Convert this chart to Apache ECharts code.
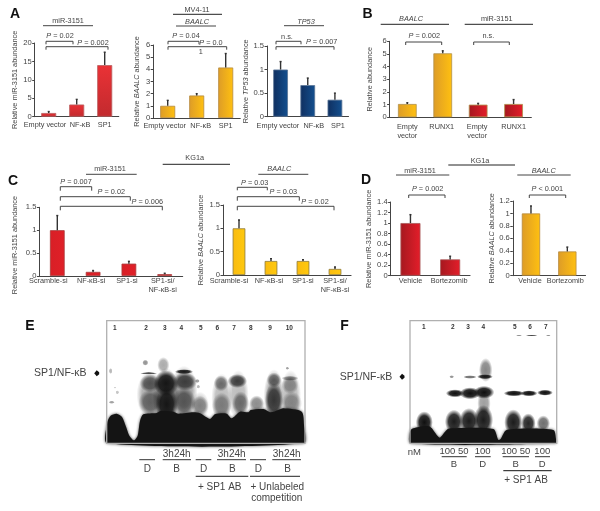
<!DOCTYPE html>
<html><head><meta charset="utf-8">
<style>html,body{margin:0;padding:0;background:#fff}#c{width:600px;height:511px}</style>
<script src="https://cdn.jsdelivr.net/npm/echarts@6/dist/echarts.min.js"></script>
</head><body><div id="c"></div>
<script>
// ---- values ----
const catsA = ['Empty vector', 'NF-κB', 'SP1'];
const catsB = ['Empty\nvector', 'RUNX1', 'Empty\nvector', 'RUNX1'];
const catsC = ['Scramble-si', 'NF-κB-si', 'SP1-si', 'SP1-si/\nNF-κB-si'];
const catsD = ['Vehicle', 'Bortezomib'];
const a1Mean = [1, 3.3, 14];       const a1Top = [1.4, 4.7, 17.5];
const a2Mean = [1, 1.85, 4.15];    const a2Top = [1.45, 2.0, 5.3];
const a3Mean = [1, 0.67, 0.36];    const a3Top = [1.17, 0.82, 0.5];
const bMean = [1.05, 5.05, 1.0, 1.05]; const bTop = [1.15, 5.25, 1.1, 1.4];
const c1Mean = [1, 0.09, 0.27, 0.04];  const c1Top = [1.32, 0.12, 0.32, 0.06];
const c2Mean = [1, 0.3, 0.3, 0.13];    const c2Top = [1.18, 0.35, 0.33, 0.17];
const d1Mean = [1, 0.31];          const d1Top = [1.16, 0.37];
const d2Mean = [1, 0.39];          const d2Top = [1.12, 0.46];

// ---- colours ----
const H = (a, b) => new echarts.graphic.LinearGradient(0, 0, 1, 0, [{offset:0,color:a},{offset:1,color:b}]);
const V = (a, b) => new echarts.graphic.LinearGradient(0, 0, 0, 1, [{offset:0,color:a},{offset:1,color:b}]);
const RED_A = V('#ea3236', '#c22a2e');
const ORANGE = H('#dd9c28', '#ffc010');
const RED_B = H('#a5181f', '#e41e2a');
const BLUE = H('#0f2f60', '#14508f');
const RED_C = H('#d81f26', '#e02028');
const YEL_C = H('#f9bb10', '#ffc90e');
const INK = '#444';
const FONT = 'Liberation Sans';
const FS = 7.3;

// ---- panels ----
const panels = [
 {l:34.7,r:118.7,t:43,b:116.7,max:20,step:5,cats:catsA,mean:a1Mean,top:a1Top,fill:[RED_A],bw:15,edge:'#b9605f',
  name:'Relative miR-3151 abundance',gap:16.7,shift:[-3.7,3.3,0],lm:3.5},
 {l:153.2,r:240.2,t:45,b:118,max:6,step:1,cats:catsA,mean:a2Mean,top:a2Top,fill:[ORANGE],bw:15,edge:'#b58a40',
  name:'{n|Relative }{i|BAALC}{n| abundance}',gap:12.5,shift:[-3,4,0],lm:3.5},
 {l:267,r:348.5,t:46,b:116.7,max:1.5,step:0.5,cats:catsA,mean:a3Mean,top:a3Top,fill:[BLUE],bw:14.7,edge:'#5a7596',
  name:'{n|Relative }{i|TP53}{n| abundance}',gap:12.5,shift:[-2.7,6,3],lm:4.5},
 {l:389.6,r:531.3,t:41.3,b:117.3,max:6,step:1,cats:catsB,mean:bMean,top:bTop,fill:[ORANGE,ORANGE,RED_B,RED_B],bw:18.7,edge:'#b0904a',
  name:'Relative abundance',gap:16,shift:[0,-1,-1,0],lm:5},
 {l:39.4,r:182.6,t:207.3,b:276,max:1.5,step:0.5,cats:catsC,mean:c1Mean,top:c1Top,fill:[RED_C],bw:14.7,edge:'#a83a3a',
  name:'Relative miR-3151 abundance',gap:20.7,shift:[-9,-2,-2,-2],lm:0.5,up:3.4},
 {l:223,r:351,t:205,b:275,max:1.5,step:0.5,cats:catsC,mean:c2Mean,top:c2Top,fill:[YEL_C],bw:12.7,edge:'#8d7a3a',
  name:'{n|Relative }{i|BAALC}{n| abundance}',gap:19,shift:[-10,-2,0,0],lm:1},
 {l:390.6,r:470,t:202,b:275.7,max:1.4,step:0.2,cats:catsD,mean:d1Mean,top:d1Top,fill:[RED_B],bw:20,edge:'#a85a5a',
  name:'Relative miR-3151 abundance',gap:18.3,shift:[0,-1],lm:1},
 {l:512.8,r:585.5,t:201,b:275.7,max:1.2,step:0.2,cats:catsD,mean:d2Mean,top:d2Top,fill:[ORANGE],bw:18.3,edge:'#b58a40',
  name:'{n|Relative }{i|BAALC}{n| abundance}',gap:16.8,shift:[-1,-2],lm:1}
];

const grid=[], xAxis=[], yAxis=[], series=[];
panels.forEach((p,i)=>{
  grid.push({left:p.l,top:p.t,width:p.r-p.l,height:p.b-p.t,containLabel:false});
  const rich={};
  p.cats.forEach((c,k)=>{const s=p.shift[k]||0;
    rich['c'+k]={fontFamily:FONT,fontSize:FS,color:INK,lineHeight:9.2,padding:[0,s<0?-2*s:0,0,s>0?2*s:0]};});
  xAxis.push({gridIndex:i,type:'category',data:p.cats,
    axisLine:{lineStyle:{color:'#444',width:1.2}},axisTick:{show:false},
    axisLabel:{interval:0,margin:p.lm,hideOverlap:false,rich,
      formatter:(v,k)=>v.split('\n').map(t=>'{c'+k+'|'+t+'}').join('\n')}});
  yAxis.push({gridIndex:i,type:'value',min:0,max:p.max,interval:p.step,
    name:p.name,nameLocation:'middle',nameGap:p.gap,nameRotate:90,
    nameTextStyle:{fontFamily:FONT,fontSize:FS,color:INK,padding:[0,2*(p.up||0),0,0],
      rich:{n:{fontFamily:FONT,fontSize:FS,color:INK},i:{fontFamily:FONT,fontSize:FS,color:INK,fontStyle:'italic'}}},
    splitLine:{show:false},
    axisLine:{show:true,lineStyle:{color:'#444',width:1}},
    axisTick:{show:true,length:2.5,lineStyle:{color:'#444',width:1}},
    axisLabel:{fontFamily:FONT,fontSize:7.6,color:INK,margin:3}});
  series.push({type:'bar',xAxisIndex:i,yAxisIndex:i,barWidth:p.bw,silent:true,animation:false,
    data:p.mean.map((v,k)=>({value:v,itemStyle:{color:p.fill[k%p.fill.length]||p.fill[0],borderColor:p.edge,borderWidth:0.8}}))});
  series.push({type:'custom',xAxisIndex:i,yAxisIndex:i,silent:true,animation:false,z:5,
    data:p.top.map((v,k)=>[k,p.mean[k],v]),
    encode:{x:0,y:[1,2]},
    renderItem:(params,api)=>{
      const a=api.coord([api.value(0),api.value(1)]), b=api.coord([api.value(0),api.value(2)]);
      const st={stroke:'#333',lineWidth:1.4,fill:null};
      return {type:'group',children:[
        {type:'line',shape:{x1:a[0],y1:a[1],x2:a[0],y2:b[1]},style:st},
        {type:'line',shape:{x1:a[0]-1,y1:b[1],x2:a[0]+1,y2:b[1]},style:st}]};
    }});
});

// ---- annotations ----
const g=[];
const text=(x,y,s,o={})=>g.push({type:'text',x,y,silent:true,z:20,style:{text:s,fill:o.c||INK,font:`${o.i?'italic ':''}${o.w||'normal'} ${o.s||FS}px "${FONT}"`,align:o.a||'center',verticalAlign:'middle'}});
const rule=(x1,x2,y,c='#444',w=1)=>g.push({type:'line',silent:true,z:20,shape:{x1,y1:y,x2,y2:y},style:{stroke:c,lineWidth:w}});
const bracket=(x1,x2,y,d=3)=>g.push({type:'polyline',silent:true,z:20,shape:{points:[[x1,y+d],[x1,y],[x2,y],[x2,y+d]]},style:{stroke:'#444',lineWidth:1,fill:null}});
const ptext=(x,y,rest)=>g.push({type:'text',x,y,silent:true,z:20,style:{text:'{i|P}{n| '+rest+'}',align:'center',verticalAlign:'middle',
  rich:{i:{fontFamily:FONT,fontSize:FS,fontStyle:'italic',fill:INK},n:{fontFamily:FONT,fontSize:FS,fill:INK}}}});
// panel letters
[[15,14.5,'A'],[367.5,14.5,'B'],[13,181,'C'],[366,180,'D'],[30,326.5,'E'],[344.5,326.5,'F']].forEach(a=>text(a[0],a[1],a[2],{s:14,w:'bold',c:'#111'}));
// A headings
text(68,21,'miR-3151');rule(43,93,25.7);
text(197,10,'MV4-11');rule(173,222,14.3,'#222');
text(197,22,'BAALC',{i:1});rule(176,216,26);
text(306,22,'TP53',{i:1});rule(284,324,25.7);
// A brackets
ptext(60,36,'= 0.02');bracket(46,73,41.3);
ptext(93,42.7,'= 0.002');bracket(46,108,46.7);
ptext(186,36,'= 0.04');bracket(168,199,41.3);
ptext(211,42.7,'= 0.0');bracket(168,226.7,46.7);text(200.7,52,'1');
text(287,36.7,'n.s.');bracket(276,301,41.3);
ptext(321.7,42.3,'= 0.007');bracket(276,334,46.7);
// B
text(411,19,'BAALC',{i:1});rule(380.7,449,24.3,'#222');
text(496.7,19,'miR-3151');rule(464.7,533,24.3,'#222');
ptext(424.3,36,'= 0.002');bracket(405.7,441.7,42);
text(488.3,36,'n.s.');bracket(473.7,509.3,42);
// C
text(194.7,158.3,'KG1a');rule(162.7,230,164.3,'#222');
text(110,169,'miR-3151');rule(86,136.7,174.3);
text(279.3,169,'BAALC',{i:1});rule(258.3,308.3,174.3);
ptext(76,181.7,'= 0.007');bracket(60.3,91.7,186.7,4);
ptext(111.3,192.3,'= 0.02');bracket(60.3,130.3,196.7,4);
ptext(147.3,202.3,'= 0.006');bracket(60.3,162.3,206.3,4);
ptext(254.7,182.7,'= 0.03');bracket(237.3,267.3,187.3,3);
ptext(283.3,192.3,'= 0.03');bracket(237.3,299.3,196.7,4);
ptext(315,202,'= 0.02');bracket(237.3,334,206.3,4);
// D
text(480,160.7,'KG1a');rule(448.3,515,165,'#222');
text(420,170.7,'miR-3151');rule(396,449.3,175);
text(543.7,170.7,'BAALC',{i:1});rule(517.3,570.7,175);
ptext(427.7,189,'= 0.002');bracket(408.7,445,195);
ptext(547.3,189,'< 0.001');bracket(529.3,565.7,195);

// ---- gels (pictorial autoradiographs, not data) ----
const blob=(ox,cx,cy,rx,ry,a)=>{const R=ry/3*1.5;g.push({type:'circle',silent:true,z:11,x:ox+cx/3,y:315+cy/3,scaleX:1.22*rx/ry,scaleY:1,shape:{cx:0,cy:0,r:R},
  style:{fill:new echarts.graphic.RadialGradient(0.5,0.5,0.5,[{offset:0,color:`rgba(15,15,15,${a})`},{offset:0.6,color:`rgba(15,15,15,${a*0.88})`},{offset:1,color:'rgba(15,15,15,0)'}])}});};
const mass=(ox,pts)=>g.push({type:'polygon',silent:true,z:12,shape:{points:pts.map(p=>[ox+p[0]/3,315+p[1]/3]),smooth:0.25},
  style:{fill:'#141414',shadowBlur:3,shadowColor:'rgba(20,20,20,0.8)'}});
const frame=(x1,y1,x2,y2)=>g.push({type:'rect',silent:true,z:15,shape:{x:x1,y:y1,width:x2-x1,height:y2-y1},style:{fill:null,stroke:'#b0b0b0',lineWidth:1.3}});
const lanes=(xs,y)=>xs.forEach((x,i)=>text(x,y,String(i+1),{s:6.5,w:'bold',c:'#333'}));
const arrow=(x,y)=>g.push({type:'polygon',silent:true,z:20,shape:{points:[[x-2.5,y],[x,y-3],[x+2.5,y-1],[x+2.5,y+1],[x,y+3]]},style:{fill:'#111'}});

// E: broad smears first, then the denser bands
[[450,240,22,48,.35],[498,245,22,58,.5],[552,230,22,52,.4],[600,272,15,28,.22],[665,250,17,50,.28],[715,240,17,50,.28],[770,272,14,20,.2],[822,245,17,55,.38],[872,240,17,50,.28]
].forEach(b=>blob(0,...b));
[[332,168,3,6,.3],[335,262,5,3,.4],[352,232,3,4,.25],[345,218,2,2,.2],
 [446,175,14,2.5,.75],[450,205,17,18,.6],[452,262,20,26,.5],[436,143,5,6,.45],
 [498,205,20,26,.95],[490,150,10,16,.35],[500,268,18,36,.95],
 [552,170,15,5,.95],[555,200,20,18,.7],[552,262,19,30,.55],
 [600,272,14,20,.4],[592,198,4,4,.4],[595,215,3,4,.3],
 [663,205,12,16,.5],[665,272,16,26,.4],
 [712,198,16,14,.75],[722,265,14,24,.5],
 [770,265,12,16,.35],
 [822,195,12,15,.55],[822,255,15,34,.75],
 [870,190,14,5,.45],[870,210,14,18,.35],[875,265,17,24,.35],[862,160,3,3,.4]
].forEach(b=>blob(0,...b));
mass(0,[[322,385],[322,322],[332,302],[350,296],[366,306],[378,335],[388,362],[402,376],[413,362],[420,318],[430,298],[470,294],[482,288],[520,290],[535,296],[580,292],[600,295],[630,312],[645,298],[680,296],[695,310],[720,290],[745,292],[752,285],[790,282],[812,292],[835,285],[850,280],[905,290],[912,330],[912,385]]);
frame(106.7,320.7,305,443.3);
lanes([114.7,146,164.7,181.3,200.7,217.3,234,250.7,270,289.3],328);
text(60.3,373.3,'SP1/NF-κB',{s:10.5});arrow(96.7,373.3);
[[139.3,155],[195.7,211.3],[250,266]].forEach(r=>rule(r[0],r[1],459.7,'#333'));
[[176.7,162.7,191],[231.7,217,246],[286.7,272.3,301]].forEach(r=>{text(r[0],454.3,'3h24h',{s:10});rule(r[1],r[2],459.7,'#333');});
[[147.3,'D'],[176.7,'B'],[203.7,'D'],[232.3,'B'],[258.3,'D'],[287.7,'B']].forEach(r=>text(r[0],469,r[1],{s:10}));
rule(195.7,248.3,476.3,'#222');rule(250,300,476.3,'#222');
text(219.7,487,'+ SP1 AB',{s:10});text(277.3,487,'+ Unlabeled',{s:10});text(276.7,498.7,'competition',{s:10});

// F
[[405,235,15,8,1],[450,235,17,12,1],[492,232,17,13,1],[582,235,17,6,1],[627,235,14,6,1],[675,233,13,6,1],
 [395,185,4,3,.45],[450,186,11,3.5,.6],[495,185,13,5,.95],[497,165,11,24,.5],[492,265,11,26,.4],
 [597,62,5,1.5,.5],[635,62,10,1.5,.8],[685,62,4,1.5,.5],
 [313,322,14,22,1],[402,320,15,24,.95],[447,318,16,26,.95],[490,315,16,30,.95],
 [580,322,15,26,.95],[625,325,12,20,.9],[670,325,11,16,.6]
].forEach(b=>blob(320,...b));
mass(320,[[272,385],[272,345],[300,335],[330,335],[352,362],[360,368],[380,345],[392,340],[520,342],[535,375],[542,372],[560,345],[700,345],[708,372],[708,385]]);
frame(410,320.7,556.7,443.3);
lanes([423.7,452.7,468,483.3,514.7,530,545.7],327);
text(366,376.7,'SP1/NF-κB',{s:10.5});arrow(402,376.7);
text(414.3,452,'nM',{s:9.5});
[[454,'100 50',441.7,466.7],[482.7,'100',475,490.7],[515.7,'100 50',502.7,529],[542.3,'100',535,550]].forEach(r=>{text(r[0],451.5,r[1],{s:9.5});rule(r[2],r[3],456.7,'#333');});
[[454,'B'],[482.7,'D'],[515.7,'B'],[542.3,'D']].forEach(r=>text(r[0],464.3,r[1],{s:9.5}));
rule(503.3,551.7,470.7,'#111');
text(526,480.3,'+ SP1 AB',{s:10});

const chart=echarts.init(document.getElementById('c'),null,{renderer:'canvas'});
chart.setOption({animation:false,backgroundColor:'#fff',grid,xAxis,yAxis,series,graphic:{elements:g}});
</script></body></html>
